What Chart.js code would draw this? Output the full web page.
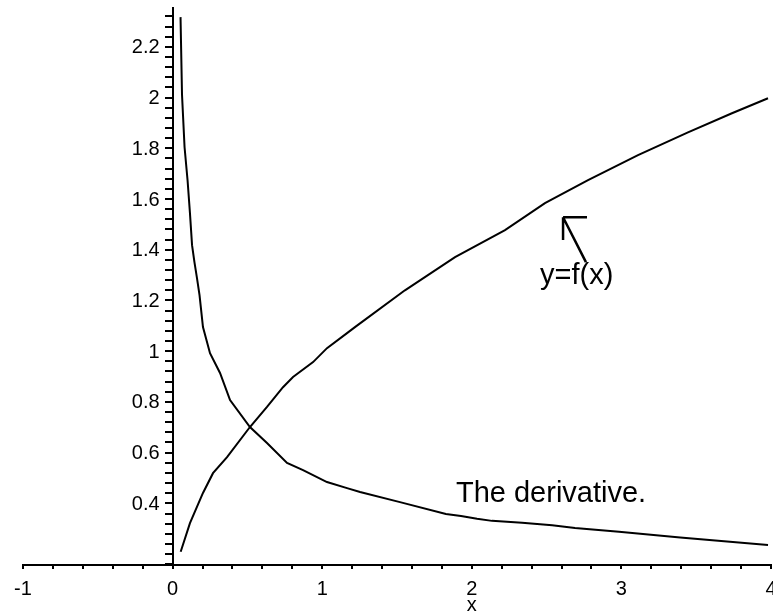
<!DOCTYPE html>
<html>
<head>
<meta charset="utf-8">
<script src="https://cdn.jsdelivr.net/npm/chart.js@4/dist/chart.umd.min.js"></script>
<style>
  html, body { margin: 0; padding: 0; background: #fff; }
  #wrap { width: 773px; height: 615px; }
</style>
</head>
<body>
<div id="wrap"><canvas id="c" width="773" height="615"></canvas></div>
<script>
// ---- data ----
const fX = [0.054, 0.116, 0.203, 0.270, 0.364, 0.517, 0.631, 0.738, 0.805, 0.939, 1.032, 1.166, 1.219, 1.553, 1.888, 2.222, 2.489, 2.777, 3.111, 3.445, 3.739, 3.980];
const fY = [0.209, 0.322, 0.441, 0.519, 0.582, 0.701, 0.780, 0.858, 0.898, 0.957, 1.012, 1.071, 1.095, 1.240, 1.371, 1.477, 1.584, 1.674, 1.773, 1.863, 1.938, 1.997];

const dX = [0.053, 0.063, 0.080, 0.100, 0.116, 0.130, 0.146, 0.163, 0.180, 0.203, 0.250, 0.317, 0.384, 0.517, 0.631, 0.765, 0.872, 1.032, 1.166, 1.253, 1.520, 1.827, 1.928, 2.035, 2.135, 2.336, 2.537, 2.690, 2.984, 3.393, 3.980];
const dY = [2.317, 2.010, 1.804, 1.674, 1.544, 1.418, 1.351, 1.288, 1.221, 1.095, 0.992, 0.914, 0.807, 0.701, 0.638, 0.559, 0.531, 0.484, 0.460, 0.445, 0.405, 0.358, 0.350, 0.339, 0.331, 0.324, 0.314, 0.303, 0.288, 0.265, 0.236];

const xTickLabels = ['-1', '0', '1', '2', '3', '4'];
const yTickLabels = ['0.4', '0.6', '0.8', '1', '1.2', '1.4', '1.6', '1.8', '2', '2.2'];

const xLabel = 'x';
const fLabel = 'y=f(x)';
const dLabel = 'The derivative.';

// ---- build ----
const toPts = (xs, ys) => xs.map((x, i) => ({ x: x, y: ys[i] }));
const FONT = '"Liberation Sans", Arial, Helvetica, sans-serif';

function nearMultiple(v, step) {
  const r = v / step;
  return Math.abs(r - Math.round(r)) < 1e-6;
}
function yLabelFor(v) {
  if (!nearMultiple(v, 0.2)) return '';
  const s = String(parseFloat(v.toFixed(1)));
  return yTickLabels.includes(s) ? s : '';
}

const annotations = {
  id: 'annotations',
  afterDatasetsDraw(chart) {
    const { ctx, scales: { x, y } } = chart;
    const P = (a, b) => [x.getPixelForValue(a), y.getPixelForValue(b)];
    ctx.save();
    ctx.fillStyle = '#000';
    ctx.strokeStyle = '#000';

    // y tick labels, to the left of the y axis (which sits at x = 0)
    ctx.font = '20px ' + FONT;
    ctx.textAlign = 'right';
    ctx.textBaseline = 'middle';
    const ax = x.getPixelForValue(0);
    y.ticks.forEach(t => {
      const s = yLabelFor(t.value);
      if (s) ctx.fillText(s, ax - 7 - 6, y.getPixelForValue(t.value) + 1);
    });

    // text labels
    ctx.font = '29px ' + FONT;
    ctx.textAlign = 'left';
    ctx.textBaseline = 'alphabetic';
    let p = P(1.894, 0.405);
    ctx.fillText(dLabel, p[0], p[1]);
    p = P(2.456, 1.264);
    ctx.fillText(fLabel, p[0], p[1]);

    // arrow
    ctx.lineWidth = 2.5;
    ctx.lineCap = 'butt';
    ctx.beginPath();
    const a = P(2.763, 1.351), b = P(2.610, 1.528), c = P(2.770, 1.528), d = P(2.610, 1.438);
    ctx.moveTo(a[0], a[1]); ctx.lineTo(b[0], b[1]);
    ctx.moveTo(b[0], b[1]); ctx.lineTo(c[0], c[1]);
    ctx.moveTo(b[0], b[1]); ctx.lineTo(d[0], d[1]);
    ctx.stroke();

    // axis title
    ctx.font = '20px ' + FONT;
    ctx.textAlign = 'center';
    ctx.fillText(xLabel, x.getPixelForValue(2), chart.chartArea.bottom + 46);
    ctx.restore();
  }
};

new Chart(document.getElementById('c'), {
  type: 'scatter',
  data: {
    datasets: [
      { label: fLabel, data: toPts(fX, fY), showLine: true, borderColor: '#000', borderWidth: 2, pointRadius: 0, tension: 0 },
      { label: dLabel, data: toPts(dX, dY), showLine: true, borderColor: '#000', borderWidth: 2, pointRadius: 0, tension: 0 }
    ]
  },
  options: {
    responsive: false,
    animation: false,
    layout: { padding: { left: 23, right: 2, top: 8, bottom: 0 } },
    plugins: { legend: { display: false }, tooltip: { enabled: false }, title: { display: false } },
    scales: {
      x: {
        type: 'linear',
        position: 'bottom',
        min: -1, max: 4,
        afterFit(s) { s.height = 50; s.paddingLeft = 0; s.paddingRight = 0; },
        border: { display: true, color: '#000', width: 2 },
        grid: { drawOnChartArea: false, drawTicks: true, tickLength: 4, color: '#000', lineWidth: 2 },
        ticks: {
          stepSize: 0.2, autoSkip: false, maxRotation: 0, includeBounds: false,
          padding: 8, color: '#000', font: { family: FONT, size: 20 },
          callback(v) {
            if (!nearMultiple(v, 1)) return '';
            const s = String(Math.round(v));
            return xTickLabels.includes(s) ? s : '';
          }
        }
      },
      y: {
        type: 'linear',
        position: { x: 0 },
        min: 0.157, max: 2.353,
        afterFit(s) { s.paddingTop = 0; s.paddingBottom = 0; },
        border: { display: true, color: '#000', width: 2 },
        grid: { drawOnChartArea: false, drawTicks: true, tickLength: 7, color: '#000', lineWidth: 2 },
        ticks: {
          display: false,
          stepSize: 0.04, autoSkip: false, includeBounds: false,
          callback: yLabelFor
        }
      }
    }
  },
  plugins: [annotations]
});
</script>
</body>
</html>
